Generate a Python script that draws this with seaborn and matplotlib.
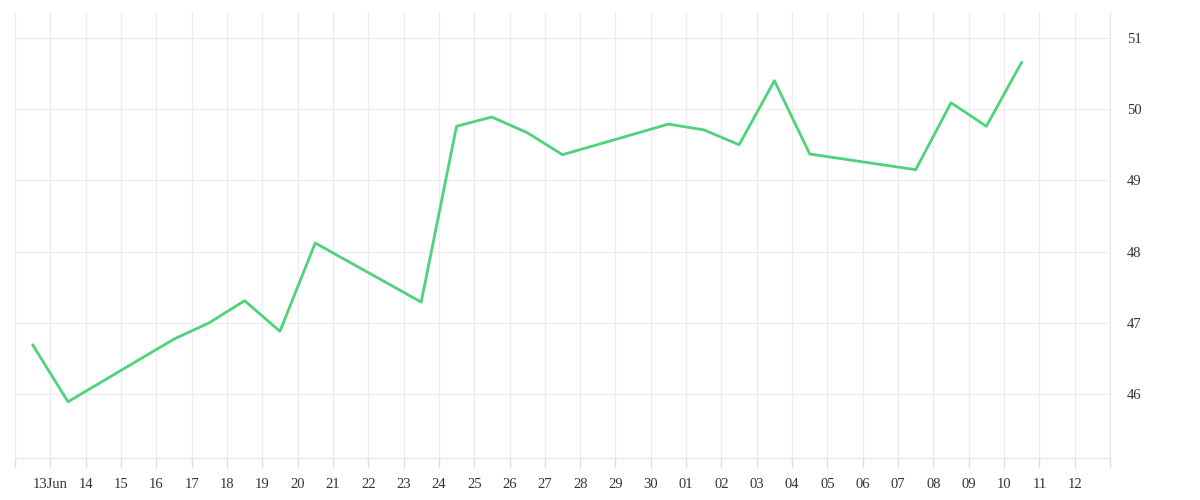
import pandas as pd
import matplotlib
matplotlib.use("Agg")
import matplotlib.pyplot as plt
import seaborn as sns

# data (weekdays, plotted at noon)
dates = ["2025-06-12", "2025-06-13", "2025-06-16", "2025-06-17", "2025-06-18",
         "2025-06-19", "2025-06-20", "2025-06-23", "2025-06-24", "2025-06-25",
         "2025-06-26", "2025-06-27", "2025-06-30", "2025-07-01", "2025-07-02",
         "2025-07-03", "2025-07-04", "2025-07-07", "2025-07-08", "2025-07-09",
         "2025-07-10"]
values = [46.69, 45.89, 46.77, 47.00, 47.31,
          46.88, 48.12, 47.29, 49.76, 49.89,
          49.67, 49.36, 49.79, 49.71, 49.50,
          50.40, 49.37, 49.15, 50.09, 49.76,
          50.66]
y_ticks = [46, 47, 48, 49, 50, 51]

df = pd.DataFrame({"date": pd.to_datetime(dates) + pd.Timedelta(hours=12), "value": values})

sns.set_style("white")
plt.rcParams['font.family'] = ['Liberation Serif', 'DejaVu Serif']

fig = plt.figure(figsize=(12, 5), dpi=100)
ax = fig.add_axes([0.0125, 0.084, 0.9125, 0.892])

sns.lineplot(data=df, x="date", y="value", ax=ax, color="#4ed27c", linewidth=2.0)

ax.set_xlim(pd.Timestamp("2025-06-12"), pd.Timestamp("2025-07-13"))
ax.set_ylim(45.10, 51.365)

# x axis: a tick every day, label all but the edges
days = pd.date_range("2025-06-12", "2025-07-13", freq="D")
labels = []
for d in days:
    if d == days[0] or d == days[-1]:
        labels.append("")
    elif d == pd.Timestamp("2025-06-13"):
        labels.append("13Jun")
    else:
        labels.append(d.strftime("%d"))
ax.set_xticks(days)
ax.set_xticklabels(labels)

ax.yaxis.tick_right()
ax.set_yticks(y_ticks)

ax.grid(True, color="#ededed", linewidth=0.9)
ax.tick_params(axis="x", which="major", bottom=True, direction="out", length=7.5,
               color="#dedede", width=1.0, pad=7, labelsize=10.5, labelcolor="#333333")
ax.tick_params(axis="y", length=0, pad=12, labelsize=10.5, labelcolor="#333333")

for side in ["top", "left"]:
    ax.spines[side].set_visible(False)
for side in ["right", "bottom"]:
    ax.spines[side].set_color("#e6e6e6")
    ax.spines[side].set_linewidth(0.9)

ax.set_xlabel("")
ax.set_ylabel("")

plt.savefig("out.png", dpi=100)
